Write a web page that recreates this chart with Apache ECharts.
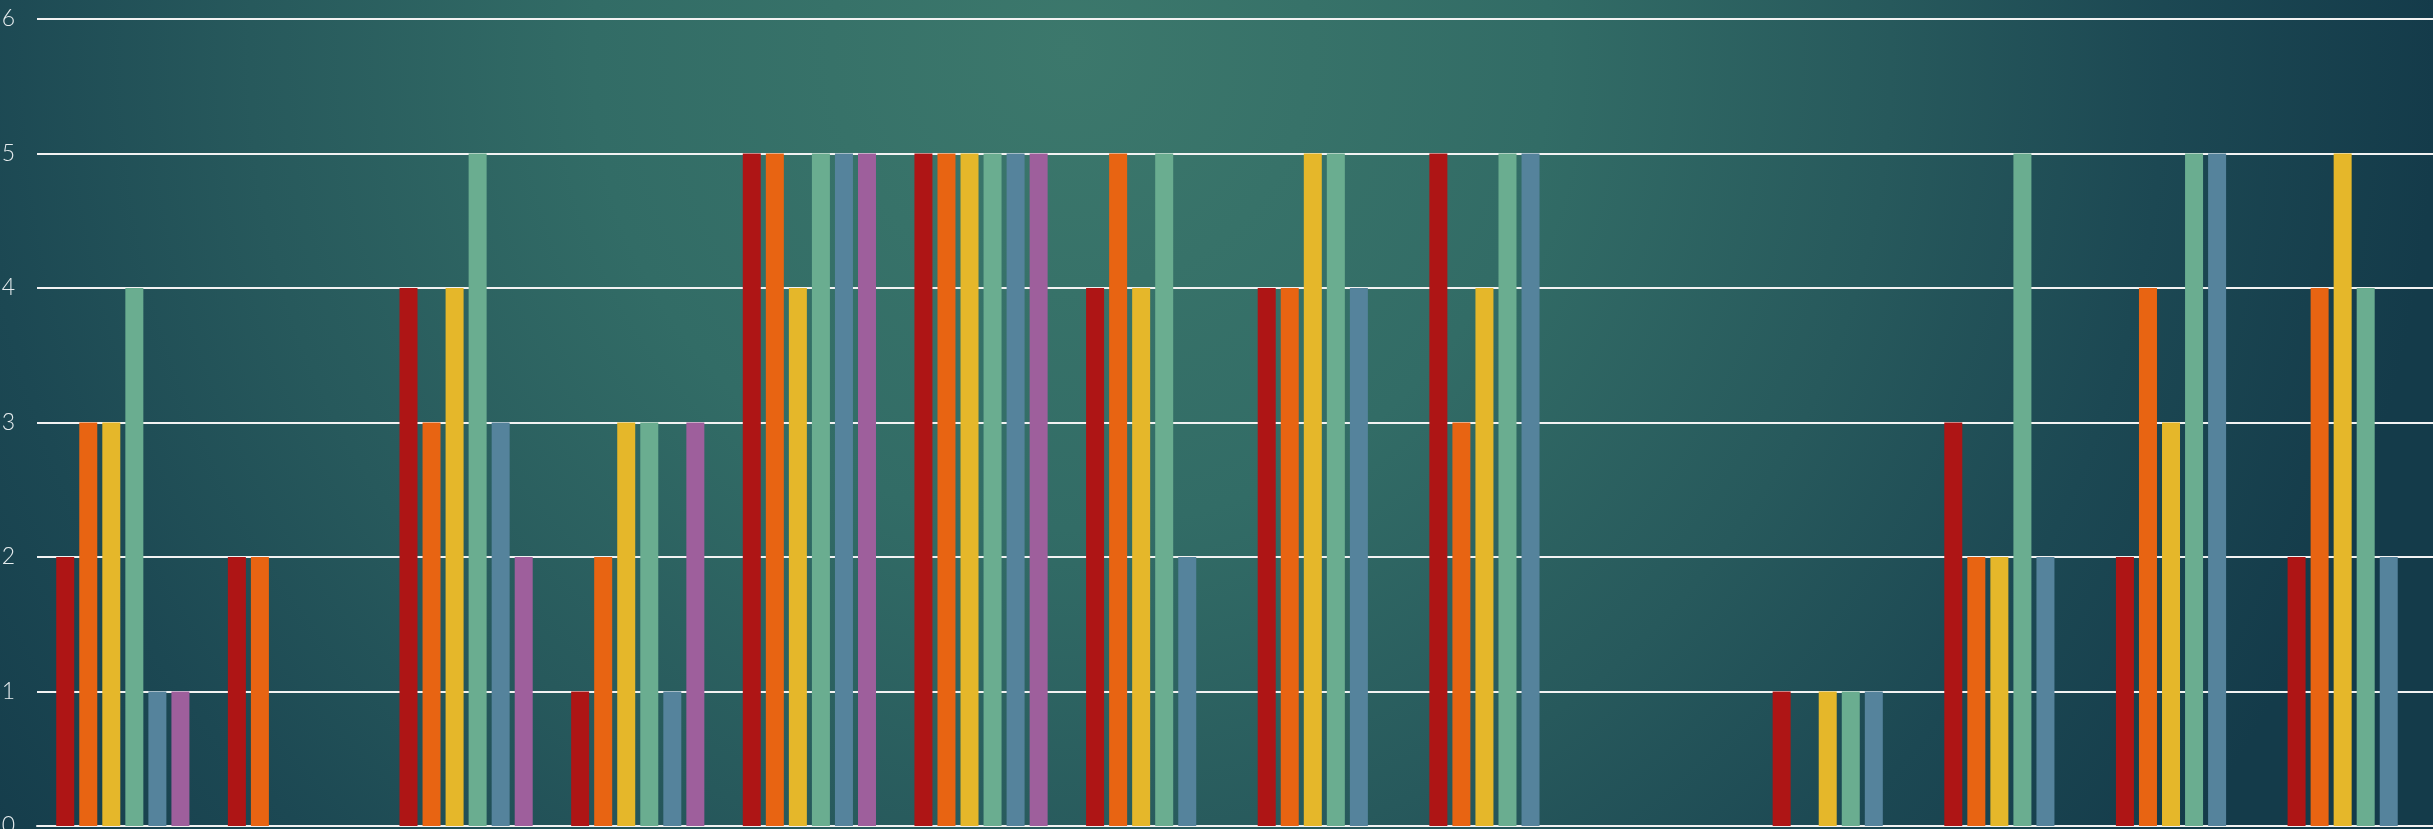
<!DOCTYPE html>
<html>
<head>
<meta charset="utf-8">
<script src="https://cdn.jsdelivr.net/npm/echarts@6/dist/echarts.min.js"></script>
<style>
html, body { margin: 0; padding: 0; }
#chart { width: 2433px; height: 829px; }
</style>
</head>
<body>
<div id="chart"></div>
<script>
// 14 groups, no category labels shown
var categories = ['1', '2', '3', '4', '5', '6', '7', '8', '9', '10', '11', '12', '13', '14'];
var yTicks = [0, 1, 2, 3, 4, 5, 6];

var redVals    = [2, 2, 4, 1, 5, 5, 4, 4, 5, null, 1, 3, 2, 2];
var orangeVals = [3, 2, 3, 2, 5, 5, 5, 4, 3, null, null, 2, 4, 4];
var yellowVals = [3, null, 4, 3, 4, 5, 4, 5, 4, null, 1, 2, 3, 5];
var greenVals  = [4, null, 5, 3, 5, 5, 5, 5, 5, null, 1, 5, 5, 4];
var blueVals   = [1, null, 3, 1, 5, 5, 2, 4, 5, null, 1, 2, 5, 2];
var purpleVals = [1, null, 2, 3, 5, 5, null, null, null, null, null, null, null, null];

var colors = ['#ae1515', '#e86412', '#e5b72a', '#6aad90', '#55839c', '#9e5f9c'];
var allSeries = [redVals, orangeVals, yellowVals, greenVals, blueVals, purpleVals];

var chart = echarts.init(document.getElementById('chart'));

var series = allSeries.map(function(vals, i) {
	return {
		type: 'bar',
		data: vals,
		barWidth: 18,
		barGap: '28%',
		itemStyle: { color: colors[i] },
		silent: true
	};
});

var option = {
	animation: false,
	backgroundColor: {
		type: 'radial',
		x: 0.44, y: 0.06, r: 1.65,
		colorStops: [
			{ offset: 0, color: '#3c786c' },
			{ offset: 0.35, color: '#326c66' },
			{ offset: 0.6, color: '#27595c' },
			{ offset: 0.8, color: '#1c4853' },
			{ offset: 1, color: '#143b4a' }
		]
	},
	grid: { left: 37, right: -7, top: 19, bottom: 3, containLabel: false, outerBoundsMode: 'none' },
	xAxis: {
		type: 'category',
		data: categories,
		axisLine: { show: true, lineStyle: { color: '#f2f2f2', width: 2 } },
		axisTick: { show: false },
		axisLabel: { show: false }
	},
	yAxis: {
		type: 'value',
		min: yTicks[0],
		max: yTicks[yTicks.length - 1],
		interval: 1,
		axisLine: { show: false },
		axisTick: { show: false },
		axisLabel: {
			color: '#e6ecee',
			fontFamily: 'Lato',
			fontWeight: 300,
			fontSize: 23,
			margin: 22
		},
		splitLine: { lineStyle: { color: '#f2f2f2', width: 2 } }
	},
	series: series
};

chart.setOption(option);
</script>
</body>
</html>
